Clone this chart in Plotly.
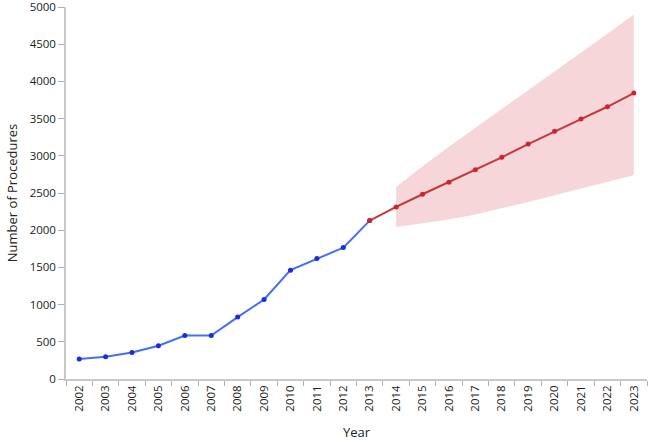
import plotly.graph_objects as go

years_hist = ["2002", "2003", "2004", "2005", "2006", "2007", "2008",
              "2009", "2010", "2011", "2012", "2013"]
procedures_hist = [270, 300, 357, 447, 585, 585, 832, 1068, 1463, 1619, 1766, 2129]

years_proj = ["2013", "2014", "2015", "2016", "2017", "2018", "2019",
              "2020", "2021", "2022", "2023"]
procedures_proj = [2129, 2313, 2483, 2646, 2813, 2980, 3158, 3329, 3494, 3659, 3843]

years_band = ["2014", "2015", "2016", "2017", "2018", "2019", "2020",
              "2021", "2022", "2023"]
band_upper = [2580, 2860, 3120, 3380, 3630, 3880, 4130, 4390, 4640, 4900]
band_lower = [2044, 2090, 2145, 2210, 2290, 2380, 2470, 2560, 2650, 2740]

all_years = [str(y) for y in range(2002, 2024)]
y_ticks = [0, 500, 1000, 1500, 2000, 2500, 3000, 3500, 4000, 4500, 5000]

fig = go.Figure()

fig.add_trace(go.Scatter(x=years_band, y=band_lower, mode="lines",
                         line=dict(width=0, color="rgba(0,0,0,0)"),
                         showlegend=False, hoverinfo="skip"))
fig.add_trace(go.Scatter(x=years_band, y=band_upper, mode="lines",
                         line=dict(width=0, color="rgba(0,0,0,0)"),
                         fill="tonexty", fillcolor="rgba(246,214,216,1)",
                         showlegend=False, hoverinfo="skip"))

fig.add_trace(go.Scatter(x=years_hist, y=procedures_hist, mode="lines+markers",
                         line=dict(color="#4470EE", width=2),
                         marker=dict(color="#1A2BE0", size=5),
                         showlegend=False))
fig.add_trace(go.Scatter(x=years_proj, y=procedures_proj, mode="lines+markers",
                         line=dict(color="#C0393B", width=2),
                         marker=dict(color="#C8282D", size=5),
                         showlegend=False))

fig.update_layout(
    width=650, height=441,
    margin=dict(l=66, r=3, t=7, b=62),
    paper_bgcolor="white", plot_bgcolor="white",
    font=dict(family="Open Sans", size=12, color="#222222"),
    xaxis=dict(
        type="category", categoryorder="array", categoryarray=all_years,
        range=[-0.5, 21.5], automargin=False,
        tickangle=-90, tickson="boundaries",
        ticks="outside", ticklen=5, tickcolor="#b0b0b0",
        showline=True, linecolor="#c8c8c8", linewidth=1.5,
        showgrid=False, zeroline=False,
        tickfont=dict(family="Open Sans", size=11.5, color="#222222"),
        title=dict(text="Year", font=dict(family="Open Sans", size=13, color="#222222"),
                   standoff=18),
    ),
    yaxis=dict(
        range=[0, 5000], tickvals=y_ticks, automargin=False,
        ticklabeloverflow="allow",
        ticks="outside", ticklen=6, tickcolor="#b0b0b0",
        showline=True, linecolor="#c8c8c8", linewidth=1.5,
        showgrid=False, zeroline=False,
        tickfont=dict(family="Open Sans", size=11.5, color="#222222"),
        title=dict(text="Number of Procedures",
                   font=dict(family="Open Sans", size=13, color="#222222"),
                   standoff=9),
    ),
)

fig.write_html("out.html", config={"displayModeBar": False},
               post_script="document.body.style.margin='0';")
